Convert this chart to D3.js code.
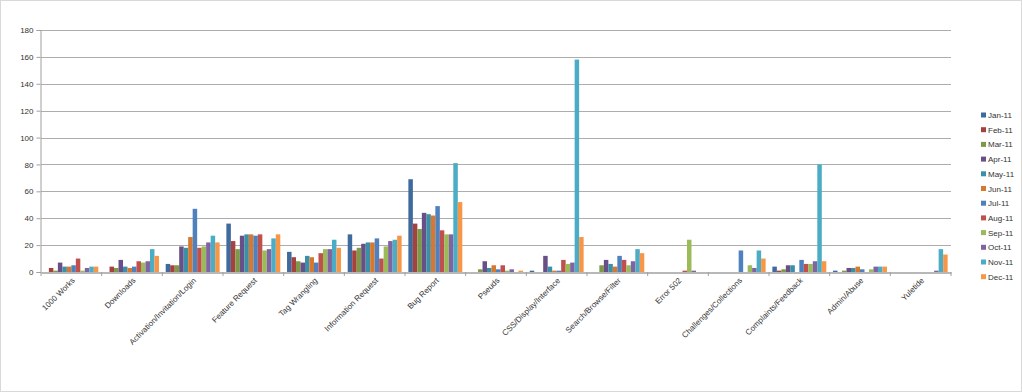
<!DOCTYPE html>
<html>
<head>
<meta charset="utf-8">
<script src="https://cdn.jsdelivr.net/npm/d3@7/dist/d3.min.js"></script>
<style>
html,body{margin:0;padding:0;background:#fff;}
svg{display:block;font-family:"Liberation Sans","DejaVu Sans",sans-serif;}
</style>
</head>
<body>
<svg id="chart" width="1022" height="392"></svg>
<script>
const categories = ["1000 Works","Downloads","Activation/Invitation/Login","Feature Request","Tag Wrangling","Information Request","Bug Report","Pseuds","CSS/Display/Interface","Search/Browse/Filter","Error 502","Challenges/Collections","Complaints/Feedback","Admin/Abuse","Yuletide"];
const months = ["Jan-11","Feb-11","Mar-11","Apr-11","May-11","Jun-11","Jul-11","Aug-11","Sep-11","Oct-11","Nov-11","Dec-11"];
const jan = [0,0,6,36,15,28,69,0,1,0,0,0,4,1,0];
const feb = [3,4,5,23,11,16,36,0,0,0,0,0,1,0,0];
const mar = [1,3,5,17,8,18,32,2,0,5,0,0,2,1,0];
const apr = [7,9,19,27,7,21,44,8,12,9,0,0,5,3,0];
const may = [4,4,18,28,12,22,43,3,4,6,0,0,5,3,0];
const jun = [4,3,26,28,11,22,42,5,1,4,0,0,0,4,0];
const jul = [5,4,47,27,7,25,49,2,1,12,0,16,9,2,0];
const aug = [10,8,18,28,14,10,31,5,9,9,1,0,6,0,0];
const sep = [1,7,19,16,17,19,28,1,6,5,24,5,6,2,0];
const oct = [3,8,22,17,17,23,28,2,7,8,1,3,8,4,1];
const nov = [4,17,27,25,24,24,81,0,158,17,0,16,80,4,17];
const dec = [4,12,22,28,18,27,52,1,26,14,0,10,8,4,13];
const yTicks = [0,20,40,60,80,100,120,140,160,180];
const colors = ["#3F6A9E","#A5413F","#7D9A46","#694F88","#3B8FA6","#D6782F","#4F81BD","#C0504D","#9BBB59","#8064A2","#4BACC6","#F79646"];

const series = [jan,feb,mar,apr,may,jun,jul,aug,sep,oct,nov,dec];

const svg = d3.select("#chart");
svg.append("rect").attr("x",0.5).attr("y",0.5).attr("width",1021).attr("height",391)
  .attr("fill","#fff").attr("stroke","#D9D9D9");

const plotL = 41, plotR = 951, plotT = 30, plotB = 272;
const y = d3.scaleLinear().domain([0,180]).range([plotB, plotT]);
const x0 = d3.scaleBand().domain(categories).range([plotL, plotR]).padding(0);
const bw = x0.bandwidth();
const gapSide = bw * 0.75 / 13.5;
const x1 = d3.scaleBand().domain(months).range([gapSide, bw - gapSide]).padding(0);

// gridlines
svg.append("g").selectAll("line").data(yTicks.filter(d=>d>0)).join("line")
  .attr("x1", plotL).attr("x2", plotR)
  .attr("y1", d=>Math.round(y(d))+0.5).attr("y2", d=>Math.round(y(d))+0.5)
  .attr("stroke","#ADADAD").attr("stroke-width",1);

// y axis
const yAxis = d3.axisLeft(y).tickValues(yTicks).tickSize(4).tickPadding(3);
const gy = svg.append("g").attr("transform",`translate(${plotL-0.5},0)`).call(yAxis);
gy.select(".domain").attr("stroke","#A0A0A0");
gy.selectAll(".tick line").attr("stroke","#A0A0A0");
gy.selectAll(".tick text").attr("font-size","8px").attr("fill","#333");

// bars
const groups = svg.append("g").selectAll("g").data(categories).join("g")
  .attr("transform", c=>`translate(${x0(c)},0)`);
groups.selectAll("rect").data((c,ci)=>months.map((m,mi)=>({m, mi, v: series[mi][ci]})))
  .join("rect")
  .attr("x", d=>x1(d.m)).attr("width", x1.bandwidth())
  .attr("y", d=>y(d.v)).attr("height", d=>y(0)-y(d.v))
  .attr("fill", d=>colors[d.mi]);

// x axis
const xAxis = d3.axisBottom(x0).tickSize(0).tickFormat("");
const gx = svg.append("g").attr("transform",`translate(0,${plotB+0.5})`).call(xAxis);
gx.select(".domain").attr("stroke","#A0A0A0").attr("stroke-width",1.5);
const bounds = categories.map(c=>x0(c)).concat([plotR]);
svg.append("g").selectAll("line").data(bounds).join("line")
  .attr("x1", d=>d).attr("x2", d=>d).attr("y1", plotB).attr("y2", plotB+4)
  .attr("stroke","#A0A0A0");

svg.append("g").selectAll("text").data(categories).join("text")
  .attr("transform", c=>`translate(${x0(c)+bw/2+4},${plotB+9}) rotate(-45)`)
  .attr("text-anchor","end").attr("font-size","8px").attr("fill","#333")
  .text(c=>c);

// legend
const lg = svg.append("g").selectAll("g").data(months).join("g")
  .attr("transform",(m,i)=>`translate(981,${115 + i*14.7})`);
lg.append("rect").attr("x",0).attr("y",-2.5).attr("width",5).attr("height",5)
  .attr("fill",(m,i)=>colors[i]);
lg.append("text").attr("x",7).attr("y",3).attr("font-size","8px").attr("fill","#333").text(m=>m);
</script>
</body>
</html>
